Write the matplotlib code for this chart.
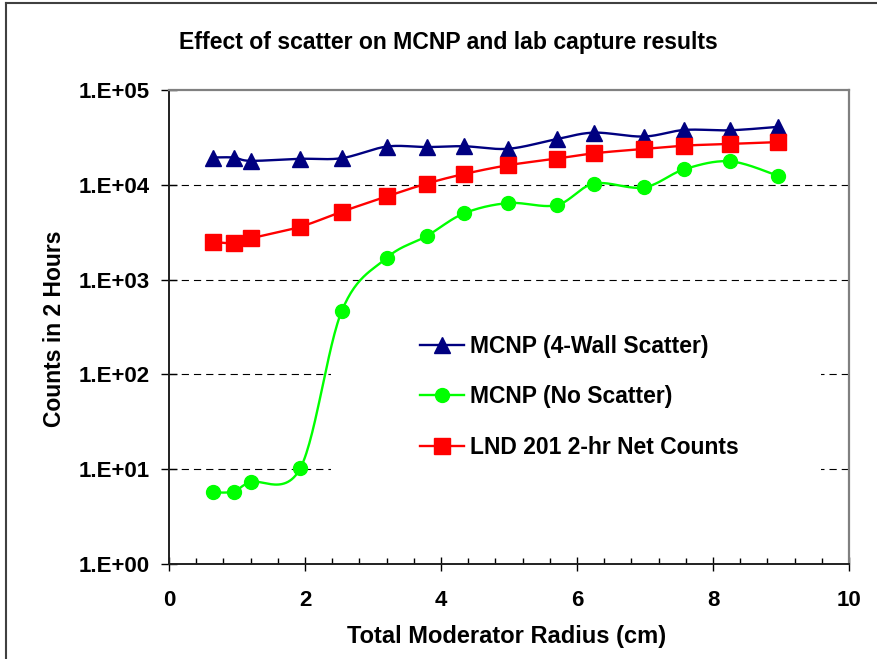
import numpy as np
import matplotlib.pyplot as plt
from matplotlib.lines import Line2D
from matplotlib.patches import Rectangle

plt.rcParams['font.family'] = ['Liberation Sans', 'DejaVu Sans']
plt.rcParams['font.weight'] = 'bold'

# data
radius = [0.64, 0.95, 1.20, 1.93, 2.54, 3.20, 3.79, 4.34, 4.99, 5.70, 6.25, 6.98, 7.58, 8.25, 8.95]
wall_scatter = [19400, 19400, 17900, 18800, 19100, 25300, 25000, 25500, 24000,
                30300, 35500, 32300, 37900, 37600, 40800]
no_scatter = [5.7, 5.8, 7.3, 10.2, 465, 1690, 2880, 5000, 6420,
              6100, 10300, 9370, 14600, 17700, 12500]
lnd_counts = [2500, 2430, 2720, 3610, 5200, 7530, 10300, 13000, 16100,
              18900, 21500, 23900, 25900, 27000, 28200]

series_names = ['MCNP (4-Wall Scatter)', 'MCNP (No Scatter)', 'LND 201 2-hr Net Counts']
y_ticks = [1e0, 1e1, 1e2, 1e3, 1e4, 1e5]
y_tick_labels = ['1.E+00', '1.E+01', '1.E+02', '1.E+03', '1.E+04', '1.E+05']
x_ticks = [0, 2, 4, 6, 8, 10]


def smooth(x, y, n=30):
    # excel-like smoothed line: bezier with catmull-rom control points, in (x, log y)
    px = np.asarray(x, float)
    py = np.log10(np.asarray(y, float))
    P = np.column_stack([px, py])
    P = np.vstack([P[0], P, P[-1]])
    out = []
    t = np.linspace(0, 1, n)[:, None]
    for i in range(1, len(P) - 2):
        p0, p3 = P[i], P[i + 1]
        c1 = p0 + (P[i + 1] - P[i - 1]) / 6
        c2 = p3 - (P[i + 2] - P[i]) / 6
        seg = ((1 - t) ** 3) * p0 + 3 * ((1 - t) ** 2) * t * c1 + 3 * (1 - t) * t ** 2 * c2 + t ** 3 * p3
        out.append(seg)
    out = np.vstack(out)
    return out[:, 0], 10 ** out[:, 1]


fig = plt.figure(figsize=(8.78, 6.59), dpi=100)
ax = fig.add_axes([169 / 878, 1 - 564 / 659, 680 / 878, 474 / 659])

styles = [('#000080', '^', 11), ('#00ff00', 'o', 10), ('#ff0000', 's', 11)]
handles = []
for vals, (c, m, ms), name in zip([wall_scatter, no_scatter, lnd_counts], styles, series_names):
    sx, sy = smooth(radius, vals)
    ax.plot(sx, sy, color=c, lw=1.7, zorder=2)
    ax.plot(radius, vals, linestyle='none', marker=m, ms=ms, color=c, mec=c, zorder=3)
    handles.append(Line2D([], [], color=c, lw=1.7, marker=m, ms=ms, mec=c, label=name))

ax.set_yscale('log')
ax.set_xlim(0, 10)
ax.set_ylim(1, 1e5)
ax.set_xticks(x_ticks)
ax.set_xticks(np.arange(0, 10.01, 0.4), minor=True)
ax.set_yticks(y_ticks)
ax.set_yticklabels(y_tick_labels)
ax.yaxis.set_minor_locator(plt.NullLocator())

ax.tick_params(axis='x', which='major', direction='inout', length=10, width=1, labelsize=16, pad=14)
ax.tick_params(axis='x', which='minor', direction='in', length=4, width=1)
ax.tick_params(axis='y', which='major', direction='inout', length=11, width=1, labelsize=16, pad=8)

for yv in y_ticks[1:-1]:
    ax.axhline(yv, color='black', lw=0.8, linestyle=(0, (6.5, 4.5)), zorder=1)

for s in ['left', 'bottom']:
    ax.spines[s].set_color('#202020')
    ax.spines[s].set_linewidth(1.4)
for s in ['top', 'right']:
    ax.spines[s].set_color('#808080')
    ax.spines[s].set_linewidth(1.6)

# white legend area hiding the grid
ax.add_patch(Rectangle((0.238, 0.181), 0.721, 0.338, transform=ax.transAxes,
                       facecolor='white', edgecolor='none', zorder=1.5))

leg = ax.legend(handles=handles, loc='upper left', bbox_to_anchor=(420 / 878, 1 - 335 / 659),
                bbox_transform=fig.transFigure, frameon=False, borderpad=0, borderaxespad=0,
                fontsize=16.5, handlelength=1.9, handletextpad=0.3, labelspacing=1.2)
leg.set_zorder(4)

fig.text(448 / 878, 1 - 43 / 659, 'Effect of scatter on MCNP and lab capture results',
         ha='center', va='center', fontsize=16.6, fontweight='bold')
fig.text(507 / 878, 1 - 636 / 659, 'Total Moderator Radius (cm)',
         ha='center', va='center', fontsize=17, fontweight='bold')
fig.text(55 / 878, 1 - 329 / 659, 'Counts in 2 Hours', rotation=90,
         ha='center', va='center', fontsize=16.5, fontweight='bold')

# chart frame (top and left edges visible)
fig.add_artist(Line2D([6 / 878, 1], [1 - 3 / 659, 1 - 3 / 659], color='#404040', lw=1.5,
                      transform=fig.transFigure))
fig.add_artist(Line2D([6 / 878, 6 / 878], [0, 1 - 3 / 659], color='#404040', lw=1.5,
                      transform=fig.transFigure))

fig.savefig('out.png', dpi=100)
